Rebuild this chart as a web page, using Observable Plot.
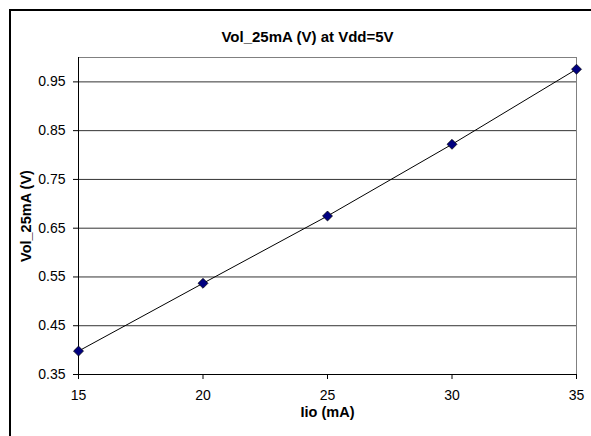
<!DOCTYPE html>
<html><head><meta charset="utf-8">
<script src="https://cdn.jsdelivr.net/npm/d3@7"></script>
<script src="https://cdn.jsdelivr.net/npm/@observablehq/plot@0.6"></script>
<style>
html,body{margin:0;padding:0;background:#fff;overflow:hidden;}
#wrap{position:relative;width:591px;height:436px;overflow:hidden;}
#border{position:absolute;left:9px;top:9px;width:600px;height:450px;border:2px solid #000;box-sizing:border-box;}
#chart{position:absolute;left:0;top:0;}
</style></head><body><div id="wrap"><div id="border"></div><div id="chart"></div></div>
<script>
const currents = [15, 20, 25, 30, 35];
const vol = [0.398, 0.537, 0.675, 0.822, 0.976];
const xTicks = [15, 20, 25, 30, 35];
const yTicks = [0.35, 0.45, 0.55, 0.65, 0.75, 0.85, 0.95];
const title = "Vol_25mA (V) at Vdd=5V";
const xLabel = "Iio (mA)";
const yLabel = "Vol_25mA (V)";

const data = currents.map((x, i) => ({x, y: vol[i]}));
const font = "'Liberation Sans', Arial, sans-serif";

const plot = Plot.plot({
  width: 591, height: 436,
  marginLeft: 78, marginRight: 15, marginTop: 57, marginBottom: 62,
  style: {fontFamily: font, fontSize: "14px", color: "#000", background: "transparent"},
  x: {domain: [15, 35]},
  y: {domain: [0.35, 1.0]},
  marks: [
    Plot.ruleY(yTicks.slice(1), {stroke: "#333"}),
    Plot.frame({stroke: "#808080"}),
    Plot.ruleX([15], {stroke: "#000"}),
    Plot.ruleY([0.35], {stroke: "#000"}),
    Plot.axisX({ticks: xTicks, tickSize: 5, tickPadding: 11, label: null, fontSize: 14, tickFormat: d => String(d)}),
    Plot.axisY({ticks: yTicks, tickSize: 5, tickPadding: 8, label: null, fontSize: 14, tickFormat: d3.format(".2f")}),
    Plot.line(data, {x: "x", y: "y", stroke: "#000", strokeWidth: 1}),
    Plot.dot(data, {x: "x", y: "y", symbol: "diamond2", r: 4.5, fill: "#000080", stroke: "#000", strokeWidth: 0.7}),
    Plot.text([title], {frameAnchor: "top", dx: -20, dy: -20, fontWeight: "bold", fontSize: 15, lineAnchor: "middle"}),
    Plot.text([xLabel], {frameAnchor: "bottom", dy: 38, fontWeight: "bold", fontSize: 14.5, lineAnchor: "middle"}),
    Plot.text([yLabel], {frameAnchor: "left", dx: -52, rotate: -90, textAnchor: "middle", fontWeight: "bold", fontSize: 14.5, lineAnchor: "middle"})
  ]
});
document.getElementById("chart").appendChild(plot);
</script>
</body></html>
